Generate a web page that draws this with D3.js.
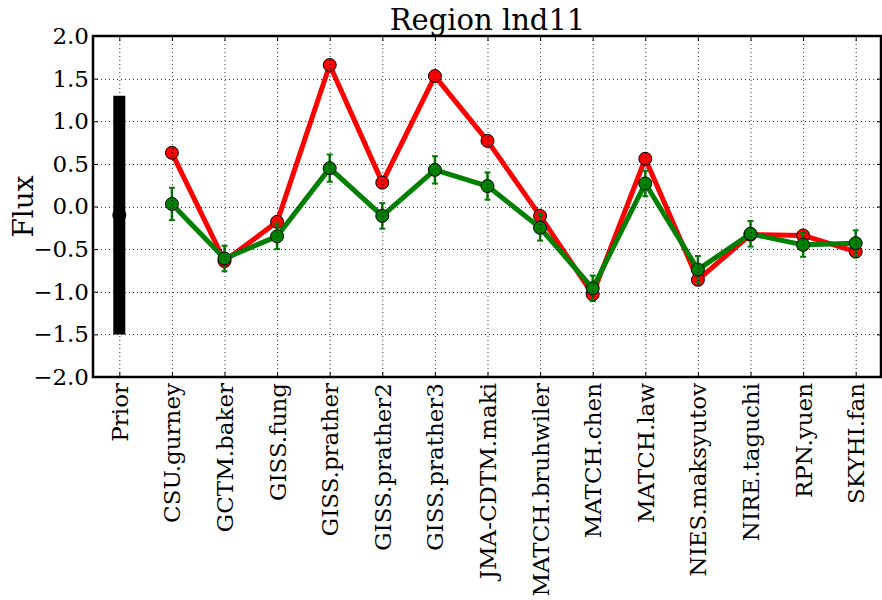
<!DOCTYPE html>
<html>
<head>
<meta charset="utf-8">
<script src="https://cdn.jsdelivr.net/npm/d3@7"></script>
<style>
  body { margin: 0; background: #fff; }
  text { font-family: "DejaVu Serif", serif; fill: #000; }
</style>
</head>
<body>
<div class="chart"></div>
<script>
var svgWidth = 882;
var svgHeight = 600;

var margin = { top: 36, right: 0, bottom: 223, left: 93 };
var width = svgWidth - margin.left - margin.right;
var height = svgHeight - margin.top - margin.bottom;

// Data
var models = ["Prior", "CSU.gurney", "GCTM.baker", "GISS.fung", "GISS.prather", "GISS.prather2",
  "GISS.prather3", "JMA-CDTM.maki", "MATCH.bruhwiler", "MATCH.chen", "MATCH.law",
  "NIES.maksyutov", "NIRE.taguchi", "RPN.yuen", "SKYHI.fan"];
var priorValue = -0.1;
var priorError = 1.4;
var redValues = [0.63, -0.64, -0.18, 1.66, 0.28, 1.53, 0.77, -0.11, -1.03, 0.56, -0.86, -0.33, -0.34, -0.53];
var greenValues = [0.03, -0.61, -0.35, 0.45, -0.11, 0.43, 0.24, -0.25, -0.96, 0.27, -0.74, -0.32, -0.45, -0.43];
var greenErrors = [0.19, 0.15, 0.15, 0.16, 0.15, 0.16, 0.16, 0.15, 0.15, 0.15, 0.16, 0.15, 0.14, 0.15];
var yTicks = [-2.0, -1.5, -1.0, -0.5, 0.0, 0.5, 1.0, 1.5, 2.0];

var svg = d3.select(".chart")
  .append("svg")
  .attr("width", svgWidth)
  .attr("height", svgHeight);

var chartGroup = svg.append("g")
  .attr("transform", `translate(${margin.left}, ${margin.top})`);

var xScale = d3.scaleLinear().domain([-0.5, models.length - 0.5]).range([0, width]);
var yScale = d3.scaleLinear().domain([-2, 2]).range([height, 0]);

var modelPts = models.slice(1).map(function(m, i) {
  return { i: i + 1, red: redValues[i], green: greenValues[i], err: greenErrors[i] };
});

// prior bar
chartGroup.append("line")
  .attr("x1", xScale(0)).attr("x2", xScale(0))
  .attr("y1", yScale(priorValue - priorError))
  .attr("y2", yScale(priorValue + priorError))
  .attr("stroke", "#000")
  .attr("stroke-width", 12);
chartGroup.append("circle")
  .attr("cx", xScale(0)).attr("cy", yScale(priorValue))
  .attr("r", 7).attr("fill", "#000");

var line = d3.line().x(d => xScale(d.i));

// red series
chartGroup.append("path")
  .datum(modelPts)
  .attr("d", line.y(d => yScale(d.red)))
  .attr("fill", "none")
  .attr("stroke", "#ff0000")
  .attr("stroke-width", 5)
  .attr("stroke-linejoin", "round");

chartGroup.selectAll(".redDot")
  .data(modelPts)
  .enter()
  .append("circle")
  .attr("cx", d => xScale(d.i))
  .attr("cy", d => yScale(d.red))
  .attr("r", 6.5)
  .attr("fill", "#ff0000")
  .attr("stroke", "#000")
  .attr("stroke-width", 1);

// green series
chartGroup.append("path")
  .datum(modelPts)
  .attr("d", line.y(d => yScale(d.green)))
  .attr("fill", "none")
  .attr("stroke", "#008000")
  .attr("stroke-width", 5)
  .attr("stroke-linejoin", "round");

var errG = chartGroup.selectAll(".err")
  .data(modelPts)
  .enter()
  .append("g");
errG.append("line")
  .attr("x1", d => xScale(d.i)).attr("x2", d => xScale(d.i))
  .attr("y1", d => yScale(d.green - d.err))
  .attr("y2", d => yScale(d.green + d.err))
  .attr("stroke", "#008000").attr("stroke-width", 2.5);
[-1, 1].forEach(function(s) {
  errG.append("line")
    .attr("x1", d => xScale(d.i) - 3).attr("x2", d => xScale(d.i) + 3)
    .attr("y1", d => yScale(d.green + s * d.err))
    .attr("y2", d => yScale(d.green + s * d.err))
    .attr("stroke", "#008000").attr("stroke-width", 2);
});

chartGroup.selectAll(".greenDot")
  .data(modelPts)
  .enter()
  .append("circle")
  .attr("cx", d => xScale(d.i))
  .attr("cy", d => yScale(d.green))
  .attr("r", 6.5)
  .attr("fill", "#008000")
  .attr("stroke", "#000")
  .attr("stroke-width", 1);

// grid on top (old matplotlib style)
chartGroup.selectAll(".vgrid")
  .data(d3.range(models.length))
  .enter()
  .append("line")
  .attr("x1", d => xScale(d) + 0.5).attr("x2", d => xScale(d) + 0.5)
  .attr("y1", 0).attr("y2", height)
  .attr("stroke", "#000").attr("stroke-width", 1)
  .attr("stroke-dasharray", "1,3").attr("opacity", 0.8);
chartGroup.selectAll(".hgrid")
  .data(yTicks)
  .enter()
  .append("line")
  .attr("x1", 0).attr("x2", width)
  .attr("y1", d => Math.round(yScale(d)) + 0.5).attr("y2", d => Math.round(yScale(d)) + 0.5)
  .attr("stroke", "#000").attr("stroke-width", 1)
  .attr("stroke-dasharray", "1,3").attr("opacity", 0.8);

// axes
var fmt = d3.format(".1f");
var leftAxis = d3.axisLeft(yScale).tickValues(yTicks).tickSize(-5).tickPadding(4)
  .tickFormat(d => fmt(d).replace("-", "\u2212"));
var rightAxis = d3.axisRight(yScale).tickValues(yTicks).tickSize(-5).tickFormat("");
var bottomAxis = d3.axisBottom(xScale).tickValues(d3.range(models.length)).tickSize(-5)
  .tickFormat(d => models[d]);
var topAxis = d3.axisTop(xScale).tickValues(d3.range(models.length)).tickSize(-5).tickFormat("");

var gl = chartGroup.append("g").call(leftAxis);
var gr = chartGroup.append("g").attr("transform", `translate(${width}, 0)`).call(rightAxis);
var gb = chartGroup.append("g").attr("transform", `translate(0, ${height})`).call(bottomAxis);
var gt = chartGroup.append("g").call(topAxis);

[gl, gr, gb, gt].forEach(function(g) {
  g.select(".domain").remove();
  g.selectAll(".tick line").attr("stroke", "#000").attr("stroke-width", 1);
});
gl.selectAll(".tick text").attr("font-size", 23).attr("font-family", "DejaVu Serif");
gb.selectAll(".tick text")
  .attr("font-size", 23)
  .attr("font-family", "DejaVu Serif")
  .attr("text-anchor", "end")
  .attr("transform", "rotate(-90)")
  .attr("x", -6)
  .attr("y", 0)
  .attr("dy", "0.35em");

// frame
chartGroup.append("rect")
  .attr("x", 0).attr("y", 0)
  .attr("width", width - 1).attr("height", height)
  .attr("fill", "none")
  .attr("stroke", "#000")
  .attr("stroke-width", 2.5);

// title and labels
svg.append("text")
  .attr("x", margin.left + width / 2)
  .attr("y", 30)
  .attr("text-anchor", "middle")
  .attr("font-size", 29)
  .text("Region lnd11");

svg.append("text")
  .attr("transform", `translate(33, ${margin.top + height / 2}) rotate(-90)`)
  .attr("text-anchor", "middle")
  .attr("font-size", 28)
  .text("Flux");
</script>
</body>
</html>
